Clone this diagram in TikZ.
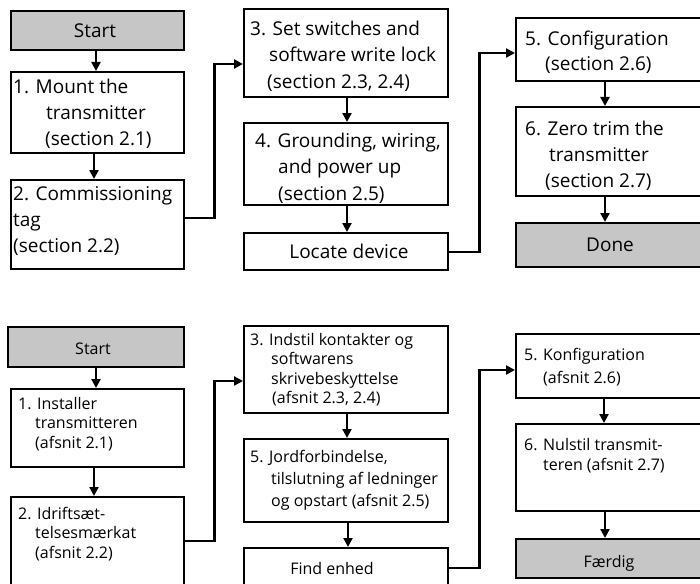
\documentclass[tikz,border=0pt]{standalone}
\usepackage{fontspec}
\setmainfont{Open Sans}
\usetikzlibrary{arrows.meta}
\definecolor{boxgray}{RGB}{198,198,198}
\newcommand\topf{\fontsize{19}{26.5}\selectfont}
\newcommand\botf{\fontsize{16}{19.5}\selectfont}
\newcommand\tstr{\rule{0pt}{18pt}}
\newcommand\bstr{\rule{0pt}{15pt}}
\tikzset{
  box/.style={draw=black, line width=2.4pt, anchor=north west, inner sep=0pt, fill=white},
  gbox/.style={box, fill=boxgray},
  arr/.style={draw=black, line width=2.2pt, -{Triangle[length=9pt,width=9pt]}},
  ttxt/.style={anchor=north west, inner sep=0pt, align=left, font=\topf},
  btxt/.style={anchor=north west, inner sep=0pt, align=left, font=\botf},
  ctop/.style={anchor=base, inner sep=0pt, font=\topf},
  cbot/.style={anchor=base, inner sep=0pt, font=\botf},
}
\begin{document}
\begin{tikzpicture}[x=1pt,y=-1pt]
\clip (0,0) rectangle (700,583);
\fill[white] (0,0) rectangle (700,583);
% ---------- top ----------
\node[gbox, minimum width=173pt, minimum height=39pt] (startT) at (10,10) {};
\node[box, minimum width=173pt, minimum height=81pt] (t1) at (10,71) {};
\node[box, minimum width=173pt, minimum height=89pt] (t2) at (10,179) {};
\node[box, minimum width=204pt, minimum height=88pt] (t3) at (243,8) {};
\node[box, minimum width=204pt, minimum height=82pt] (t4) at (243,122) {};
\node[box, minimum width=204pt, minimum height=37pt] (tLoc) at (243,232) {};
\node[box, minimum width=200pt, minimum height=63pt] (t5) at (515,17) {};
\node[box, minimum width=200pt, minimum height=89pt] (t6) at (515,106) {};
\node[gbox, minimum width=200pt, minimum height=44pt] (tDone) at (515,222) {};

\node[ctop] (startTt) at (95,38) {Start};
\node[ttxt, font=\fontsize{19}{26}\selectfont] (t1t) at (13,75) {\tstr 1. Mount the\\\hspace*{33pt}transmitter\\\hspace*{32pt}(section 2.1)};
\node[ttxt, font=\fontsize{19}{26}\selectfont] (t2t) at (13,182) {\tstr 2. Commissioning\\tag\\(section 2.2)};
\node[ttxt] (t3t) at (250,17) {\tstr 3. Set switches and\\\hspace*{19pt}software write lock\\\hspace*{17pt}(section 2.3, 2.4)};
\node[ttxt] (t4t) at (255,129) {\tstr 4. Grounding, wiring,\\\hspace*{23pt}and power up\\\hspace*{23pt}(section 2.5)};
\node[ctop] (tLoct) at (349,258) {Locate device};
\node[ttxt, font=\fontsize{19}{25}\selectfont] (t5t) at (525,27) {\tstr 5. Configuration\\\hspace*{20pt}(section 2.6)};
\node[ttxt, font=\fontsize{19}{26}\selectfont] (t6t) at (525,117) {\tstr 6. Zero trim the\\\hspace*{24pt}transmitter\\\hspace*{20pt}(section 2.7)};
\node[ctop] (tDonet) at (610,251) {Done};

\draw[arr] (startT.south -| 96,0) -- (t1.north -| 96,0);
\draw[arr] (t1.south -| 94,0) -- (t2.north -| 94,0);
\draw[arr] (t2.east |- 0,218) -- ++(29,0) |- (t3.west |- 0,64);
\draw[arr] (t3.south -| 347,0) -- (t4.north -| 347,0);
\draw[arr] (t4.south -| 347,0) -- (tLoc.north -| 347,0);
\draw[arr] (tLoc.east |- 0,252) -- ++(30,0) |- (t5.west |- 0,53);
\draw[arr] (t5.south -| 605,0) -- (t6.north -| 605,0);
\draw[arr] (t6.south -| 605,0) -- (tDone.north -| 605,0);

% ---------- bottom ----------
\node[gbox, minimum width=176pt, minimum height=40pt] (startB) at (7,326) {};
\node[box, minimum width=173pt, minimum height=78pt] (b1) at (10,388) {};
\node[box, minimum width=173pt, minimum height=100pt] (b2) at (10,496) {};
\node[box, minimum width=204pt, minimum height=87pt] (b3) at (243,325) {};
\node[box, minimum width=204pt, minimum height=83pt] (b4) at (243,438) {};
\node[box, minimum width=204pt, minimum height=60pt] (bFind) at (243,547) {};
\node[box, minimum width=200pt, minimum height=64pt] (b5) at (515,333) {};
\node[box, minimum width=200pt, minimum height=87pt] (b6) at (515,423) {};
\node[gbox, minimum width=200pt, minimum height=39pt] (bDone) at (515,538) {};

\node[cbot] (startBt) at (93,354) {Start};
\node[btxt] (b1t) at (18,394) {\bstr 1. Installer\\\hspace*{17pt}transmitteren\\\hspace*{17pt}(afsnit 2.1)};
\node[btxt] (b2t) at (18,504) {\bstr 2. Idriftsæt-\\\hspace*{17pt}telsesmærkat\\\hspace*{17pt}(afsnit 2.2)};
\node[btxt] (b3t) at (250,330) {\bstr 3. Indstil kontakter og\\\hspace*{21pt}softwarens\\\hspace*{21pt}skrivebeskyttelse\\\hspace*{22pt}(afsnit 2.3, 2.4)};
\node[btxt, font=\fontsize{16}{22}\selectfont] (b4t) at (250,447) {\bstr 5. Jordforbindelse,\\\hspace*{21pt}tilslutning af ledninger\\\hspace*{21pt}og opstart (afsnit 2.5)};
\node[cbot] (bFindt) at (332,574) {Find enhed};
\node[btxt, font=\fontsize{16}{23}\selectfont] (b5t) at (524,345) {\bstr 5. Konfiguration\\\hspace*{19pt}(afsnit 2.6)};
\node[btxt, font=\fontsize{16}{20}\selectfont] (b6t) at (524,435) {\bstr 6. Nulstil transmit-\\\hspace*{19pt}teren (afsnit 2.7)};
\node[cbot] (bDonet) at (609,567) {Færdig};

\draw[arr] (startB.south -| 96,0) -- (b1.north -| 96,0);
\draw[arr] (b1.south -| 94,0) -- (b2.north -| 94,0);
\draw[arr] (b2.east |- 0,541) -- ++(29,0) |- (b3.west |- 0,381);
\draw[arr] (b3.south -| 347,0) -- (b4.north -| 347,0);
\draw[arr] (b4.south -| 348,0) -- (bFind.north -| 348,0);
\draw[arr] (bFind.east |- 0,568) -- ++(30,0) |- (b5.west |- 0,370);
\draw[arr] (b5.south -| 604,0) -- (b6.north -| 604,0);
\draw[arr] (b6.south -| 605,0) -- (bDone.north -| 605,0);
\end{tikzpicture}
\end{document}
